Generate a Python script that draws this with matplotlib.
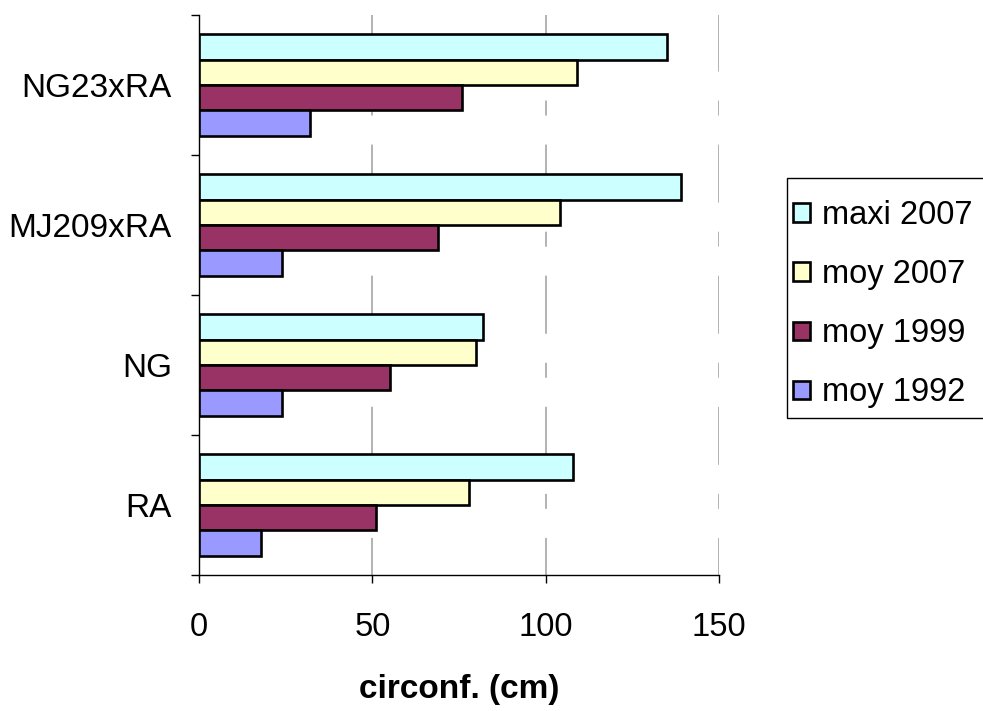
import matplotlib
matplotlib.use("Agg")
import matplotlib.pyplot as plt
from matplotlib.patches import Rectangle
import numpy as np

plt.rcParams['font.family'] = ['Liberation Sans', 'DejaVu Sans']
plt.rcParams['lines.scale_dashes'] = False

# data (bottom to top)
categories = ['RA', 'NG', 'MJ209xRA', 'NG23xRA']
moy_1992 = [18, 24, 24, 32]
moy_1999 = [51, 55, 69, 76]
moy_2007 = [78, 80, 104, 109]
maxi_2007 = [108, 82, 139, 135]

series = [
    ('maxi 2007', maxi_2007, '#CCFFFF'),
    ('moy 2007', moy_2007, '#FFFFCC'),
    ('moy 1999', moy_1999, '#993366'),
    ('moy 1992', moy_1992, '#9999FF'),
]

fig = plt.figure(figsize=(9.83, 7.11), dpi=100)
ax = fig.add_axes([199/983, 1 - 575/711, 520/983, 560/711])

y = np.arange(len(categories))
h = 0.182
offsets = [1.5*h, 0.5*h, -0.5*h, -1.5*h]
for (name, vals, col), off in zip(series, offsets):
    ax.barh(y + off, vals, height=h, color=col, edgecolor='black',
            linewidth=1.9, label=name, zorder=3)

# gridlines with the long/short dash pattern of the original
for xv in [50, 100, 150]:
    ax.axvline(xv, color='#A6A6A6', lw=1.2, zorder=1,
               linestyle=(15.1, (41.8, 20.9, 10.8, 20.9)))

ax.set_xlim(0, 150)
ax.set_ylim(-0.5, 3.5)
ax.set_xticks([0, 50, 100, 150])
ax.tick_params(axis='x', direction='out', length=6, width=1, labelsize=23.5, pad=21)

ax.set_yticks(np.arange(-0.5, 4, 1))
ax.set_yticklabels([])
ax.set_yticks(y, minor=True)
ax.set_yticklabels(categories, minor=True)
ax.tick_params(axis='y', which='major', direction='out', length=6, width=1)
ax.tick_params(axis='y', which='minor', length=0, labelsize=24, pad=19.5)

for s in ['top', 'right']:
    ax.spines[s].set_visible(False)
for s in ['left', 'bottom']:
    ax.spines[s].set_color('black')
    ax.spines[s].set_linewidth(1)

ax.set_xlabel('circonf. (cm)', fontsize=24, fontweight='bold', labelpad=22)

# legend box drawn separately, legend itself without frame
fig.patches.append(Rectangle((787/983, 1 - 418/711), 0.3, 240/711,
                             transform=fig.transFigure, facecolor='white',
                             edgecolor='black', linewidth=1, zorder=0))
leg = fig.legend(loc='upper left', bbox_to_anchor=(790/983, 1 - 197/711),
                 fontsize=23.5, frameon=False,
                 handlelength=0.5, handleheight=0.5, handletextpad=0.37,
                 labelspacing=0.86, borderpad=0.1, borderaxespad=0)

fig.savefig('out.png', dpi=100)
